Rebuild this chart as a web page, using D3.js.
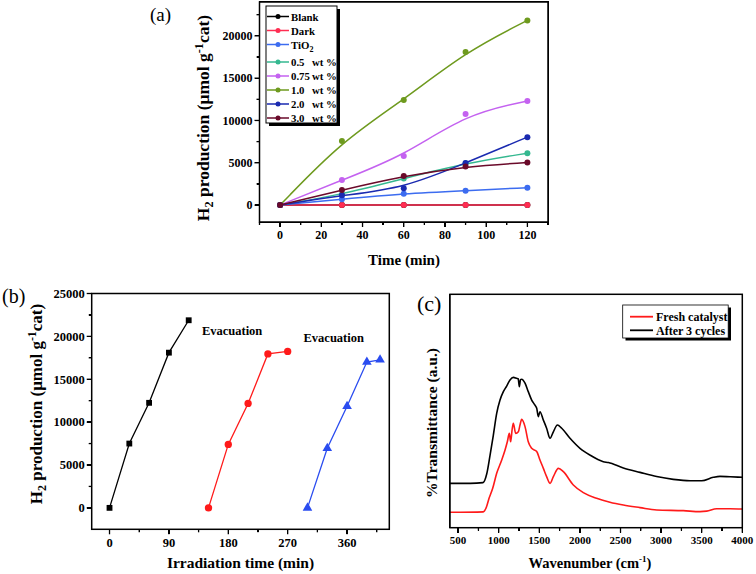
<!DOCTYPE html>
<html><head><meta charset="utf-8">
<script src="https://cdn.jsdelivr.net/npm/d3@7"></script>
<style>
body{margin:0;background:#fff}
#wrap{position:relative;width:756px;height:574px}
svg{display:block;position:absolute;left:0;top:0}
text{font-family:"Liberation Serif","Times New Roman",serif}
.hf{position:absolute;box-sizing:border-box;border:1.5px solid #000;pointer-events:none}
.ht{position:absolute;background:#000;pointer-events:none}
</style>
</head><body>
<div id="wrap"><svg id="chart" width="756" height="574"></svg></div>
<script>
// ---------- Panel (a) data ----------
const timeA = [0, 30, 60, 90, 120];
const seriesNames = ["Blank", "Dark", "TiO2", "0.5 wt %", "0.75 wt %", "1.0 wt %", "2.0 wt %", "3.0 wt %"];
const seriesColors = ["#000000", "#ff2d52", "#3c6cf0", "#35b890", "#c462f0", "#6e9a1e", "#1a2ab0", "#6a0a2a"];
const blankA = [0, 0, 0, 0, 0];
const darkA = [0, 0, 0, 0, 0];
const tio2A = [0, 680, 1350, 1700, 2060];
const wt05A = [0, 1250, 3130, 4950, 6130];
const wt075A = [0, 2960, 5810, 10750, 12300];
const wt10A = [0, 7570, 12420, 18100, 21820];
const wt20A = [0, 1150, 2000, 4980, 8030];
const wt30A = [0, 1780, 3440, 4550, 5030];
const xTicksA = [0, 20, 40, 60, 80, 100, 120];
const yTicksA = [0, 5000, 10000, 15000, 20000];

// ---------- Panel (b) data ----------
const timeB1 = [0, 30, 60, 90, 120];
const h2B1 = [0, 7500, 12250, 18100, 21880];
const timeB2 = [150, 180, 210, 240, 270];
const h2B2 = [0, 7400, 12180, 17950, 18250];
const timeB3 = [300, 330, 360, 390, 410];
const h2B3 = [0, 6950, 11850, 17000, 17270];
const colorsB = ["#000000", "#ff1a1a", "#2a4cf0"];
const xTicksB = [0, 90, 180, 270, 360];
const yTicksB = [0, 5000, 10000, 15000, 20000, 25000];
const evacLabels = ["Evacuation", "Evacuation"];

// ---------- Panel (c) data ----------
const wnAfter = [400, 650, 806, 852, 893, 933, 975, 1016, 1057, 1098, 1139, 1180, 1221, 1240, 1254, 1268, 1283, 1324, 1364, 1406, 1447, 1468, 1488, 1508, 1550, 1590, 1632, 1673, 1722, 1776, 1878, 2001, 2124, 2288, 2350, 2535, 2740, 2945, 3150, 3356, 3500, 3643, 3725, 3850, 4000];
const tAfter = [19.0, 19.0, 19.3, 23.0, 31.0, 39.5, 49.0, 54.7, 58.3, 60.7, 63.3, 64.4, 64.0, 63.8, 60.4, 63.4, 63.6, 61.9, 58.3, 54.7, 52.5, 51.2, 47.6, 49.7, 46.1, 42.6, 38.3, 41.1, 44.0, 42.6, 38.3, 34.0, 31.1, 28.3, 27.9, 25.6, 23.7, 21.9, 20.7, 20.1, 20.1, 21.6, 22.0, 21.8, 21.6];
const wnFresh = [400, 810, 850, 880, 926, 975, 1037, 1078, 1106, 1131, 1147, 1165, 1180, 1209, 1242, 1262, 1283, 1324, 1364, 1406, 1468, 1508, 1550, 1590, 1632, 1673, 1735, 1796, 1919, 2042, 2206, 2370, 2535, 2740, 2945, 3274, 3480, 3561, 3685, 3850, 4000];
const tFresh = [6.6, 6.8, 9.0, 12.5, 16.9, 23.3, 29.0, 33.3, 36.8, 40.4, 36.8, 42.0, 44.7, 40.4, 41.1, 44.0, 46.4, 43.3, 36.8, 34.0, 32.6, 29.0, 25.4, 21.9, 19.0, 21.9, 25.4, 24.0, 18.3, 15.0, 12.6, 10.9, 9.7, 8.6, 7.6, 7.3, 6.9, 7.1, 8.1, 8.1, 8.0];
const specNames = ["Fresh catalyst", "After 3 cycles"];
const specColors = ["#ff1a1a", "#000000"];
const xTicksC = [500, 1000, 1500, 2000, 2500, 3000, 3500, 4000];

const svg = d3.select("#chart");
const wrap = d3.select("#wrap");

// axes: frame box + outward tick marks + tick labels
function axes(g, x, y, o) {
  const [l, r] = x.range(), [b, t] = y.range();
  g.append("rect").attr("x", l).attr("y", t).attr("width", r - l).attr("height", b - t)
    .attr("fill", "none").attr("stroke", "#000").attr("stroke-width", 1.5);
  wrap.append("div").attr("class", "hf")
    .style("left", (l - 0.75) + "px").style("top", (t - 0.75) + "px")
    .style("width", (r - l + 1.5) + "px").style("height", (b - t + 1.5) + "px");
  const xt = o.xMajor.map(v => [v, 5]).concat(o.xMinor.map(v => [v, 3]));
  g.append("g").selectAll("line").data(xt).join("line")
    .attr("x1", d => x(d[0])).attr("x2", d => x(d[0])).attr("y1", b).attr("y2", d => b + d[1])
    .attr("stroke", "#000").attr("stroke-width", 1.3);
  wrap.selectAll(null).data(xt).join("div").attr("class", "ht")
    .style("left", d => (x(d[0]) - 0.65) + "px").style("top", b + "px")
    .style("width", "1.3px").style("height", d => d[1] + "px");
  g.append("g").selectAll("text").data(o.xMajor).join("text")
    .attr("x", d => x(d)).attr("y", b + 8 + o.tickFont * 0.75).attr("text-anchor", "middle")
    .attr("font-size", o.tickFont).attr("font-weight", "bold").text(d3.format("d"));
  if (o.yMajor) {
    const yt = o.yMajor.map(v => [v, 5]).concat(o.yMinor.map(v => [v, 3]));
    g.append("g").selectAll("line").data(yt).join("line")
      .attr("x1", l).attr("x2", d => l - d[1]).attr("y1", d => y(d[0])).attr("y2", d => y(d[0]))
      .attr("stroke", "#000").attr("stroke-width", 1.3);
    wrap.selectAll(null).data(yt).join("div").attr("class", "ht")
      .style("left", d => (l - d[1]) + "px").style("top", d => (y(d[0]) - 0.65) + "px")
      .style("width", d => d[1] + "px").style("height", "1.3px");
    g.append("g").selectAll("text").data(o.yMajor).join("text")
      .attr("x", l - 7).attr("y", d => y(d) + o.tickFont * 0.35).attr("text-anchor", "end")
      .attr("font-size", o.tickFont).attr("font-weight", "bold").text(d3.format("d"));
  }
}

function yTitle(cx, cy, size) {
  const t = svg.append("text").attr("transform", `translate(${cx},${cy}) rotate(-90)`)
    .attr("text-anchor", "middle").attr("font-size", size).attr("font-weight", "bold");
  t.append("tspan").text("H");
  t.append("tspan").attr("dy", 4).attr("font-size", size * 0.7).text("2");
  t.append("tspan").attr("dy", -4).text(" production (μmol g");
  t.append("tspan").attr("dy", -6).attr("font-size", size * 0.7).text("-1");
  t.append("tspan").attr("dy", 6).text("cat)");
}

// ================= Panel (a) =================
{
  const o = {tickFont: 12, xMajor: xTicksA, xMinor: [-10, 10, 30, 50, 70, 90, 110, 130],
    yMajor: yTicksA, yMinor: [2500, 7500, 12500, 17500, 22500]};
  const x = d3.scaleLinear().domain([-10, 130]).range([259.5, 548]);
  const y = d3.scaleLinear().domain([-2000, 24000]).range([222, 2]);
  const g = svg.append("g");
  const all = [blankA, darkA, tio2A, wt05A, wt075A, wt10A, wt20A, wt30A];
  const line = d3.line().x((d, i) => x(timeA[i])).y(d => y(d)).curve(d3.curveBasis);
  all.forEach((vals, k) => {
    g.append("path").attr("d", line(vals)).attr("fill", "none")
      .attr("stroke", seriesColors[k]).attr("stroke-width", 1.5);
    g.selectAll(null).data(vals).join("circle")
      .attr("cx", (d, i) => x(timeA[i])).attr("cy", d => y(d)).attr("r", 3)
      .attr("fill", seriesColors[k]);
  });
  axes(g, x, y, o);
  const lg = svg.append("g");
  lg.append("rect").attr("x", 269).attr("y", 9).attr("width", 71).attr("height", 117).attr("fill", "#000");
  lg.append("rect").attr("x", 266).attr("y", 6).attr("width", 71).attr("height", 117)
    .attr("fill", "#fff").attr("stroke", "#000").attr("stroke-width", 1);
  seriesNames.forEach((name, i) => {
    const yy = 16.5 + i * 14 + (i >= 3 ? 3.5 : 0);
    lg.append("line").attr("x1", 267).attr("x2", 289).attr("y1", yy).attr("y2", yy)
      .attr("stroke", seriesColors[i]).attr("stroke-width", 1.5);
    lg.append("circle").attr("cx", 278).attr("cy", yy).attr("r", 2.5).attr("fill", seriesColors[i]);
    const t = lg.append("text").attr("x", 291).attr("y", yy + 4).attr("font-size", 10.8).attr("font-weight", "bold");
    if (name === "TiO2") {
      t.append("tspan").text("TiO");
      t.append("tspan").attr("dy", 3).attr("font-size", 8).text("2");
    } else if (name.includes(" wt")) {
      const parts = name.split(" wt");
      t.append("tspan").text(parts[0]);
      t.append("tspan").attr("x", 312).text("wt" + parts[1]);
    } else t.text(name);
  });
  svg.append("text").attr("x", 150).attr("y", 21).attr("font-size", 19).text("(a)");
  svg.append("text").attr("x", 404).attr("y", 265).attr("text-anchor", "middle")
    .attr("font-size", 15).attr("font-weight", "bold").text("Time (min)");
  yTitle(209, 118, 17.5);
}

// ================= Panel (b) =================
{
  const o = {tickFont: 12.5, xMajor: xTicksB, xMinor: [45, 135, 225, 315, 405],
    yMajor: yTicksB, yMinor: [2500, 7500, 12500, 17500, 22500]};
  const x = d3.scaleLinear().domain([-27, 424]).range([91.7, 389.3]);
  const y = d3.scaleLinear().domain([-2500, 25000]).range([529.3, 293.5]);
  const g = svg.append("g");
  const sets = [[timeB1, h2B1, d3.symbolSquare, 34], [timeB2, h2B2, d3.symbolCircle, 42], [timeB3, h2B3, d3.symbolTriangle, 40]];
  sets.forEach(([tx, hy, sym, sz], k) => {
    const line = d3.line().x((d, i) => x(tx[i])).y(d => y(d));
    g.append("path").attr("d", line(hy)).attr("fill", "none").attr("stroke", colorsB[k]).attr("stroke-width", 1.3);
    g.selectAll(null).data(hy).join("path")
      .attr("d", d3.symbol().type(sym).size(sz))
      .attr("transform", (d, i) => `translate(${x(tx[i])},${y(d)})`)
      .attr("fill", colorsB[k]);
  });
  axes(g, x, y, o);
  svg.append("text").attr("x", x(140)).attr("y", y(20200)).attr("font-size", 12.5).attr("font-weight", "bold").text(evacLabels[0]);
  svg.append("text").attr("x", x(294)).attr("y", y(19300)).attr("font-size", 12.5).attr("font-weight", "bold").text(evacLabels[1]);
  svg.append("text").attr("x", 2).attr("y", 303).attr("font-size", 20).text("(b)");
  svg.append("text").attr("x", 240.5).attr("y", 568).attr("text-anchor", "middle")
    .attr("font-size", 15.5).attr("font-weight", "bold").text("Irradiation time (min)");
  yTitle(42, 404, 17);
}

// ================= Panel (c) =================
{
  const o = {tickFont: 11, xMajor: xTicksC, xMinor: [750, 1250, 1750, 2250, 2750, 3250, 3750]};
  const x = d3.scaleLinear().domain([400, 4000]).range([450, 742.3]);
  const y = d3.scaleLinear().domain([0, 100]).range([527.7, 294.3]);
  const g = svg.append("g");
  const line = d3.line().x(d => x(d[0])).y(d => y(d[1])).curve(d3.curveMonotoneX);
  g.append("path").attr("d", line(d3.zip(wnFresh, tFresh))).attr("fill", "none").attr("stroke", specColors[0]).attr("stroke-width", 1.6);
  g.append("path").attr("d", line(d3.zip(wnAfter, tAfter))).attr("fill", "none").attr("stroke", specColors[1]).attr("stroke-width", 1.6);
  axes(g, x, y, o);
  svg.append("rect").attr("x", 625.5).attr("y", 307.5).attr("width", 105.5).attr("height", 33).attr("fill", "#000");
  svg.append("rect").attr("x", 622.7).attr("y", 305).attr("width", 105.5).attr("height", 33)
    .attr("fill", "#fff").attr("stroke", "#000").attr("stroke-width", 0.8);
  specNames.forEach((nm, i) => {
    const yy = 316.7 + i * 13.6;
    svg.append("line").attr("x1", 630).attr("x2", 653).attr("y1", yy).attr("y2", yy)
      .attr("stroke", specColors[i]).attr("stroke-width", 1.8);
    svg.append("text").attr("x", 656).attr("y", yy + 4.2).attr("font-size", 12).attr("font-weight", "bold").text(nm);
  });
  svg.append("text").attr("x", 417).attr("y", 311).attr("font-size", 22).text("(c)");
  const xt = svg.append("text").attr("x", 590).attr("y", 568).attr("text-anchor", "middle")
    .attr("font-size", 14.5).attr("font-weight", "bold");
  xt.append("tspan").text("Wavenumber (cm");
  xt.append("tspan").attr("dy", -6).attr("font-size", 9).text("-1");
  xt.append("tspan").attr("dy", 6).text(")");
  svg.append("text").attr("transform", "translate(437,423) rotate(-90)").attr("text-anchor", "middle")
    .attr("font-size", 15.5).attr("font-weight", "bold").text("%Transmittance (a.u.)");
}
</script>
</body></html>
